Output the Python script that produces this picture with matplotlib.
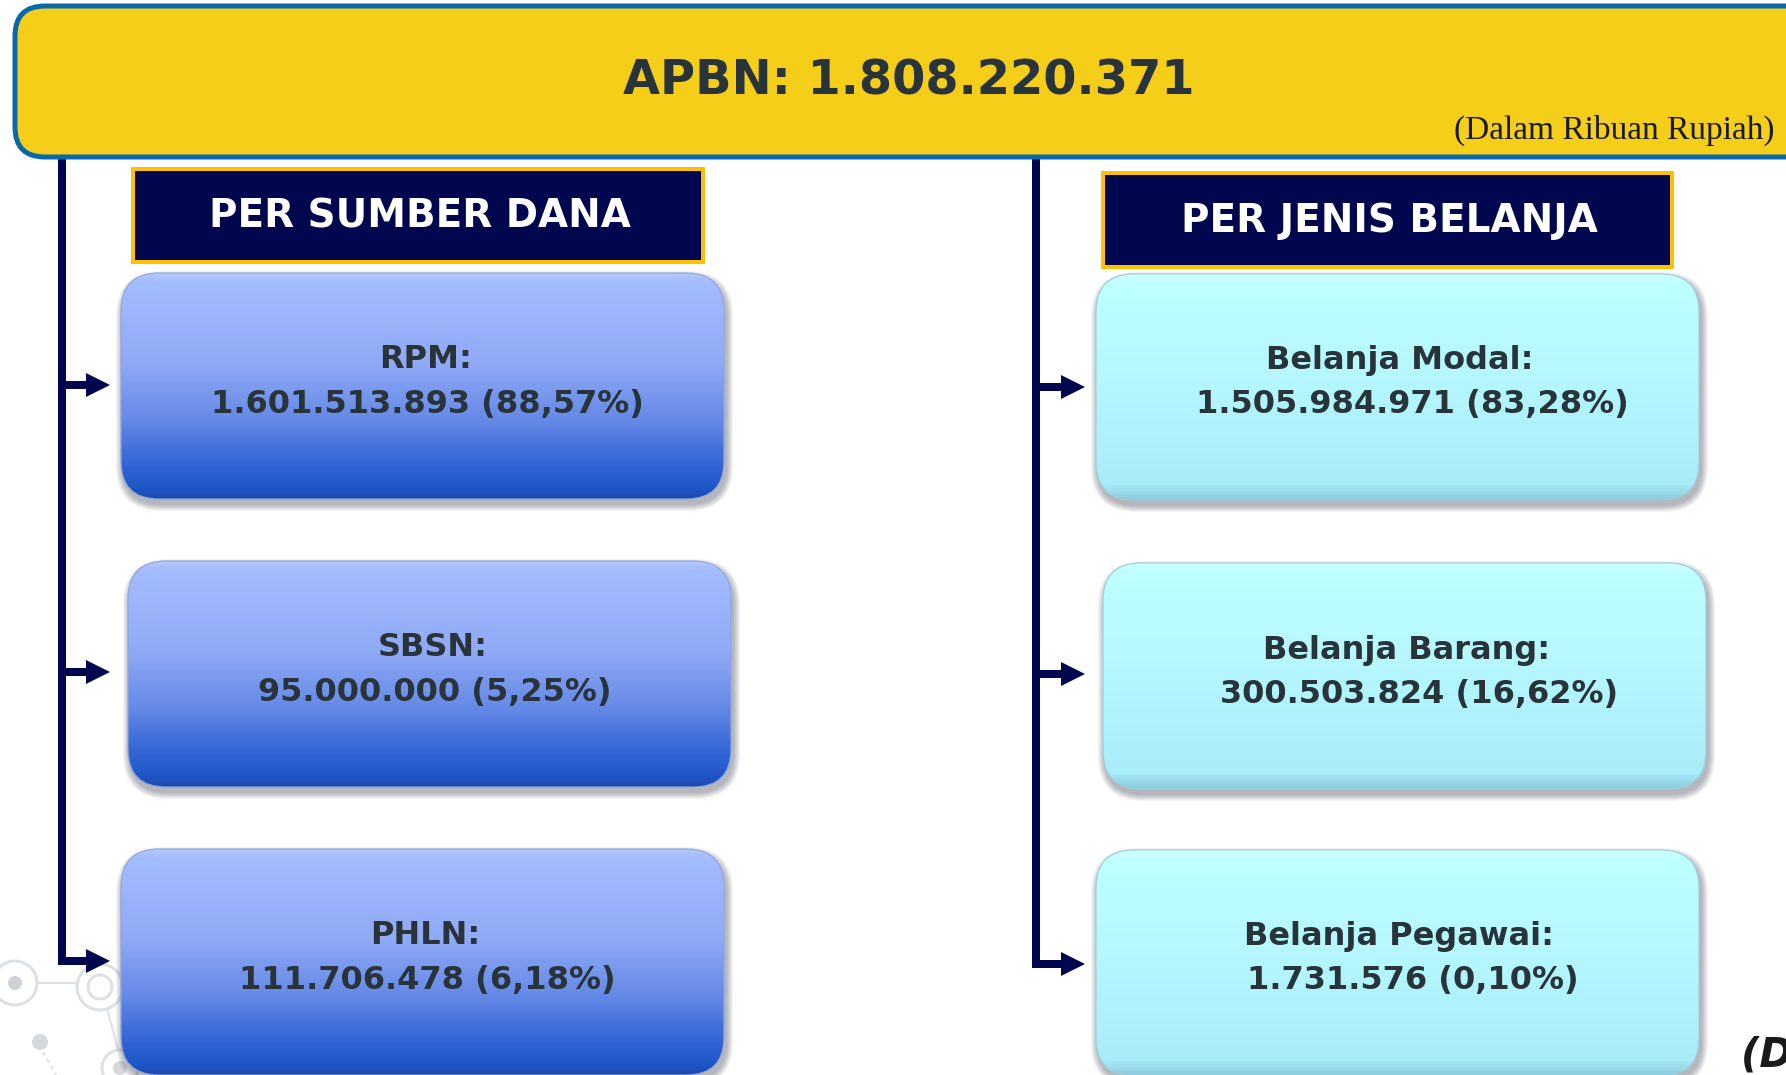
import numpy as np
import matplotlib
matplotlib.use("Agg")
import matplotlib.pyplot as plt
from matplotlib.patches import FancyBboxPatch, Circle, Polygon, Rectangle
from matplotlib.collections import PolyCollection
from matplotlib.colors import to_rgb

# ---------------- data ----------------
title_label = "APBN"
total_apbn = 1808220371
unit_note = "(Dalam Ribuan Rupiah)"

group_titles = ["PER SUMBER DANA", "PER JENIS BELANJA"]

sumber_labels = ["RPM", "SBSN", "PHLN"]
sumber_values = [1601513893, 95000000, 111706478]
sumber_pct = [88.57, 5.25, 6.18]

belanja_labels = ["Belanja Modal", "Belanja Barang", "Belanja Pegawai"]
belanja_values = [1505984971, 300503824, 1731576]
belanja_pct = [83.28, 16.62, 0.10]


def fmt_num(v):
    return f"{v:,}".replace(",", ".")


def fmt_pct(p):
    return f"{p:.2f}".replace(".", ",") + "%"


# ---------------- layout (pixels) ----------------
W, H = 1786, 1075
fig = plt.figure(figsize=(W / 100, H / 100), dpi=100)
ax = fig.add_axes([0, 0, 1, 1])
ax.set_xlim(0, W)
ax.set_ylim(H, 0)
ax.axis("off")

PX = 0.72  # points per pixel
NAVY = "#00074f"
TXT = "#28343a"

# background network motif
motif_col = "#dde1e4"
ax.plot([37, 77], [983, 983], color=motif_col, lw=2 * PX, zorder=0)
ax.plot([107, 118], [1008, 1050], color=motif_col, lw=2 * PX, zorder=0)
ax.plot([43, 56], [1052, 1075], color=motif_col, lw=2 * PX, ls=(0, (2, 2)), zorder=0)
ax.add_patch(Circle((15, 983), 22, fc="none", ec=motif_col, lw=3 * PX, zorder=0))
ax.add_patch(Circle((15, 983), 7, fc="#cdd2d5", ec="none", zorder=0))
ax.add_patch(Circle((100, 987), 23, fc="none", ec=motif_col, lw=3 * PX, zorder=0))
ax.add_patch(Circle((100, 987), 12, fc="none", ec=motif_col, lw=3 * PX, zorder=0))
ax.add_patch(Circle((40, 1042), 8, fc="#d5d9dc", ec="none", zorder=0))
ax.add_patch(Circle((120, 1068), 18, fc="none", ec=motif_col, lw=3 * PX, zorder=0))
ax.add_patch(Circle((120, 1068), 7, fc="#d5d9dc", ec="none", zorder=0))

# ---------------- banner ----------------
banner = FancyBboxPatch((15, 6), 1830, 151, boxstyle="round,pad=0,rounding_size=30",
                        fc="#f5ce1a", ec="#0868ac", lw=5 * PX, zorder=2)
ax.add_patch(banner)
ax.text(909, 81, f"{title_label}: {fmt_num(total_apbn)}", ha="center", va="center",
        fontsize=34.5, fontweight="bold", family="DejaVu Sans", color=TXT, zorder=3)
ax.text(1774, 130, unit_note, ha="right", va="center", fontsize=24,
        family=["Liberation Serif", "DejaVu Serif"], color="#1a1a1a", zorder=3)

# ---------------- connectors ----------------
left_x, right_x = 62, 1036
left_arrow_y = [385, 672, 961]
right_arrow_y = [387, 674, 964]
left_tip, right_tip = 110, 1085
lw_conn = 8 * PX

for cx, ys, tip in [(left_x, left_arrow_y, left_tip), (right_x, right_arrow_y, right_tip)]:
    ax.plot([cx, cx], [157, ys[-1]], color=NAVY, lw=lw_conn, solid_capstyle="butt", zorder=1)
    for i, yy in enumerate(ys):
        x0 = cx - 4 if i == len(ys) - 1 else cx
        ax.plot([x0, tip - 22], [yy, yy], color=NAVY, lw=lw_conn, solid_capstyle="butt", zorder=1)
        ax.add_patch(Polygon([[tip - 24, yy - 12], [tip, yy], [tip - 24, yy + 12]],
                             closed=True, fc=NAVY, ec="none", zorder=1))

# ---------------- header boxes ----------------
headers = [(133, 169, 570, 93), (1103, 173, 569, 94)]
for (hx, hy, hw, hh), t in zip(headers, group_titles):
    ax.add_patch(Rectangle((hx, hy), hw, hh, fc=NAVY, ec="#ffc000", lw=4 * PX, zorder=2))
    ax.text(hx + hw / 2 + 2, hy + hh / 2 + 1, t, ha="center", va="center", fontsize=28,
            fontweight="bold", family="DejaVu Sans", color="white", zorder=3)


# ---------------- gradient boxes ----------------
def gradient_colors(stops, n):
    pos = np.array([s[0] for s in stops])
    cols = np.array([to_rgb(s[1]) for s in stops])
    t = np.linspace(0, 1, n)
    return np.stack([np.interp(t, pos, cols[:, k]) for k in range(3)], axis=1)


blue_stops = [(0.0, "#b3c8ff"), (0.04, "#a3bbff"), (0.40, "#8fa9f5"),
              (0.66, "#6287e5"), (0.84, "#3466d4"), (0.95, "#1f57c7"), (1.0, "#1a4aae")]
cyan_stops = [(0.0, "#d0ffff"), (0.04, "#bdffff"), (0.5, "#b4f6fd"),
              (0.93, "#a9ecfa"), (1.0, "#8ccbde")]

BW, BH, R = 603, 226, 38
NSTRIP = 150


def draw_box(x, y, stops, edge):
    # soft shadow
    for s in range(7, 0, -1):
        ax.add_patch(FancyBboxPatch((x + 2 - s, y + 5 - s), BW + 2 * s, BH + 2 * s,
                                    boxstyle=f"round,pad=0,rounding_size={R + s}",
                                    fc="#1a2030", ec="none", alpha=0.05, zorder=2))
    patch = FancyBboxPatch((x, y), BW, BH, boxstyle=f"round,pad=0,rounding_size={R}",
                           fc="none", ec=edge, lw=1.2 * PX, zorder=4)
    ax.add_patch(patch)
    cols = gradient_colors(stops, NSTRIP)
    edges = np.linspace(y, y + BH, NSTRIP + 1)
    polys = [[(x, edges[i]), (x + BW, edges[i]), (x + BW, edges[i + 1] + 0.8),
              (x, edges[i + 1] + 0.8)] for i in range(NSTRIP)]
    pc = PolyCollection(polys, facecolors=cols, edgecolors="none", antialiased=False, zorder=3)
    ax.add_collection(pc)
    pc.set_clip_path(patch)


left_boxes = [(121, 273), (128, 561), (121, 849)]
right_boxes = [(1096, 274), (1103, 563), (1096, 850)]

FS_BOX = 23
for (bx, by), lab, v, p in zip(left_boxes, sumber_labels, sumber_values, sumber_pct):
    draw_box(bx, by, blue_stops, "#8fa6e0")
    cx = bx + BW / 2
    ax.text(cx + 3, by + 87, f"{lab}:", ha="center", va="center", fontsize=FS_BOX,
            fontweight="bold", family="DejaVu Sans", color=TXT, zorder=5)
    ax.text(cx + 5, by + 131, f"{fmt_num(v)} ({fmt_pct(p)})", ha="center", va="center",
            fontsize=FS_BOX, fontweight="bold", family="DejaVu Sans", color=TXT, zorder=5)

for (bx, by), lab, v, p in zip(right_boxes, belanja_labels, belanja_values, belanja_pct):
    draw_box(bx, by, cyan_stops, "#9ccfdc")
    cx = bx + BW / 2
    ax.text(cx + 2, by + 87, f"{lab}:", ha="center", va="center", fontsize=FS_BOX,
            fontweight="bold", family="DejaVu Sans", color=TXT, zorder=5)
    ax.text(cx + 15, by + 131, f"{fmt_num(v)} ({fmt_pct(p)})", ha="center", va="center",
            fontsize=FS_BOX, fontweight="bold", family="DejaVu Sans", color=TXT, zorder=5)

# bottom-right note (cut by the edge, as in the source)
ax.text(1741, 1067, unit_note, ha="left", va="baseline", fontsize=29, fontweight="bold",
        fontstyle="italic", family="DejaVu Sans", color="#1a1a1a", zorder=5)

ax.set_xlim(0, W)
ax.set_ylim(H, 0)
fig.savefig("out.png", dpi=100)
